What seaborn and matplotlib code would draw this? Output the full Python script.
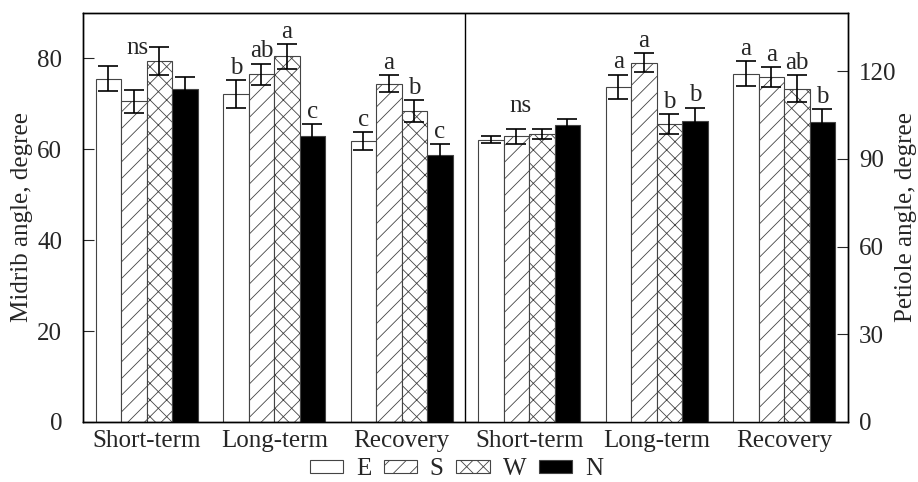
import matplotlib
matplotlib.use("Agg")
import matplotlib.pyplot as plt
from matplotlib.patches import Patch
from matplotlib.container import BarContainer
import seaborn as sns
import pandas as pd

periods = ["Short-term", "Long-term", "Recovery"]
aspects = ["E", "S", "W", "N"]

# midrib angle (left axis), rows = periods, cols = E S W N
midrib_mean = [[75.5, 70.5, 79.3, 73.2],
               [72.1, 76.5, 80.4, 62.8],
               [61.7, 74.4, 68.3, 58.8]]
midrib_err = [[2.8, 2.5, 3.1, 2.7],
              [3.1, 2.3, 2.7, 2.7],
              [2.0, 1.8, 2.4, 2.3]]
midrib_letters = [["", "", "", ""],
                  ["b", "ab", "a", "c"],
                  ["c", "a", "b", "c"]]
midrib_notes = ["ns", "", ""]

# petiole angle (right axis)
petiole_mean = [[96.5, 97.7, 98.6, 101.5],
                [114.7, 122.9, 101.9, 103.1],
                [119.1, 118.0, 114.0, 102.5]]
petiole_err = [[1.2, 2.5, 1.7, 2.0],
               [4.1, 3.2, 3.3, 4.4],
               [4.3, 3.3, 4.6, 4.5]]
petiole_letters = [["", "", "", ""],
                   ["a", "a", "b", "b"],
                   ["a", "a", "ab", "b"]]
petiole_notes = ["ns", "", ""]

slots = ["M " + p for p in periods] + ["P " + p for p in periods]
colors = {"E": "white", "S": "white", "W": "white", "N": "black"}
hatches = {"E": "", "S": "//", "W": "xx", "N": ""}

sns.set_style("ticks")
plt.rcParams['font.family'] = ['Liberation Serif', 'DejaVu Serif']
plt.rcParams['hatch.linewidth'] = 0.6
FS = 18


def make_df(prefix, means):
    rows = []
    for i, p in enumerate(periods):
        for j, a in enumerate(aspects):
            rows.append({"slot": prefix + " " + p, "aspect": a, "value": means[i][j]})
    return pd.DataFrame(rows)


def draw(ax, df, errs, letters, notes):
    sns.barplot(data=df, x="slot", y="value", hue="aspect", order=slots,
                hue_order=aspects, palette=colors, errorbar=None,
                edgecolor="#444444", linewidth=0.8, legend=False, ax=ax)
    tops = [[0] * 4 for _ in periods]
    xs = [[0] * 4 for _ in periods]
    conts = [c for c in ax.containers if isinstance(c, BarContainer)]
    for j, cont in enumerate(conts):
        for i, bar in enumerate(cont.patches):
            bar.set_hatch(hatches[aspects[j]])
            x = bar.get_x() + bar.get_width() / 2
            h = bar.get_height()
            xs[i][j] = x
            tops[i][j] = h + errs[i][j]
            ax.errorbar(x, h, yerr=errs[i][j], fmt="none", ecolor="black",
                        elinewidth=1.2, capsize=7, capthick=1.2, zorder=5)
            if letters[i][j]:
                ax.annotate(letters[i][j], (x, h + errs[i][j]), xytext=(0, 1),
                            textcoords="offset points", ha="center", va="bottom",
                            fontsize=FS)
    # "ns" over the whole group
    for i, note in enumerate(notes):
        if note:
            ax.annotate(note, (xs[i][1] + 0.03, sum(tops[i]) / 4), xytext=(0, 8),
                        textcoords="offset points", ha="center", va="bottom",
                        fontsize=FS)


fig = plt.figure(figsize=(9.18, 4.82), dpi=100)
ax = fig.add_axes([0.0904, 0.1245, 0.8333, 0.8492])
ax2 = ax.twinx()

draw(ax, make_df("M", midrib_mean), midrib_err, midrib_letters, midrib_notes)
draw(ax2, make_df("P", petiole_mean), petiole_err, petiole_letters, petiole_notes)

ax.set_ylim(0, 90)
ax2.set_ylim(0, 140)
ax.set_xlim(-0.5, 5.5)
ax.set_yticks([0, 20, 40, 60, 80])
ax2.set_yticks([0, 30, 60, 90, 120])
ax.set_xticks(range(len(slots)))
ax.set_xticklabels(periods + periods)
ax.axvline(2.5, color="black", lw=1)

ax.set_xlabel("")
ax2.set_xlabel("")
ax.set_ylabel("Midrib angle, degree", fontsize=FS, labelpad=3)
ax2.set_ylabel("Petiole angle, degree", fontsize=FS, labelpad=-1)
ax.tick_params(axis="y", direction="in", length=8, labelsize=FS, right=False, pad=15)
ax2.tick_params(axis="y", direction="in", length=8, labelsize=FS, left=False, pad=8)
ax.tick_params(axis="x", length=0, labelsize=FS, pad=6)
ax2.tick_params(axis="x", length=0)
for a in (ax, ax2):
    for s in a.spines.values():
        s.set_color("black")
        s.set_linewidth(1)

handles = [Patch(facecolor=colors[a], hatch=hatches[a], edgecolor="#444444",
                 linewidth=0.8) for a in aspects]
fig.legend(handles, aspects, loc="center", bbox_to_anchor=(0.497, 0.026),
           ncol=4, frameon=False, fontsize=FS, handlelength=1.35, handleheight=0.4,
           handletextpad=0.5, columnspacing=0.5, borderpad=0.1)

fig.savefig("out.png", dpi=100)
